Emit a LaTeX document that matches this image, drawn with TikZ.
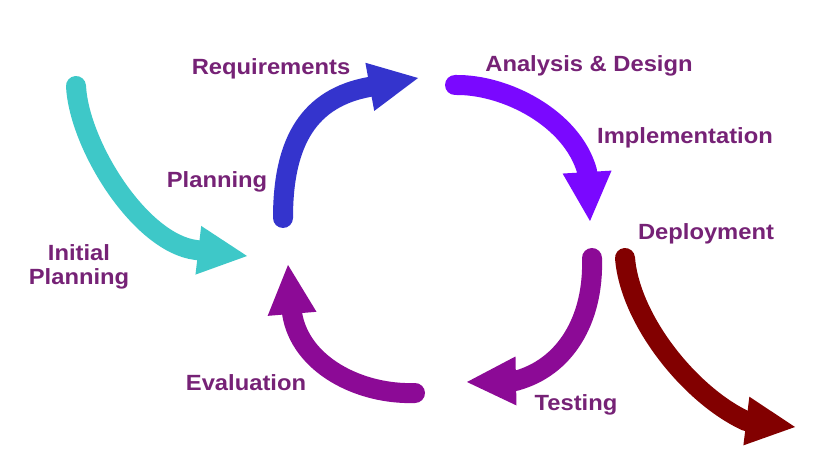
\documentclass[tikz,border=0pt]{standalone}
\usepackage{fontspec}
\setmainfont{Liberation Sans}[FakeStretch=1.08]
\usetikzlibrary{arrows.meta}
\definecolor{cCyan}{RGB}{62,200,200}
\definecolor{cBlue}{RGB}{52,52,205}
\definecolor{cViolet}{RGB}{122,8,255}
\definecolor{cPurple}{RGB}{140,10,150}
\definecolor{cDarkRed}{RGB}{130,0,0}
\definecolor{cText}{RGB}{118,34,118}
\begin{document}
\begin{tikzpicture}[x=1pt,y=-1pt,
  bigarrow/.style={line width=20pt, line cap=round, line join=round,
    -{Triangle[width=49pt,length=49pt,line width=0pt]}},
  lbl/.style={font=\fontsize{22}{24}\selectfont\bfseries, text=cText,
    inner sep=0pt, anchor=base}]
\useasboundingbox (0,0) rectangle (830,470);
\fill[white] (0,0) rectangle (830,470);

% arrow start, head base and tip points
\coordinate (initS) at (76,86);   \coordinate (initB) at (196,250); \coordinate (initE) at (247,256);
\coordinate (planS) at (283,218); \coordinate (planB) at (369,87);  \coordinate (planE) at (418,78);
\coordinate (anaS)  at (455,85);  \coordinate (anaB)  at (587,171); \coordinate (anaE)  at (590,221);
\coordinate (testS) at (592,258); \coordinate (testB) at (515,381); \coordinate (testE) at (467,382);
\coordinate (evalS) at (415,393); \coordinate (evalB) at (292,313); \coordinate (evalE) at (288,265);
\coordinate (depS)  at (625,258); \coordinate (depB)  at (746,421); \coordinate (depE)  at (795,427);

% arrows
\draw[bigarrow, cCyan]    (initS) .. controls (79,145) and (140,243) .. (initB) -- (initE);
\draw[bigarrow, cBlue]    (planS) .. controls (283,140) and (310,98) .. (planB) -- (planE);
\draw[bigarrow, cViolet]  (anaS)  .. controls (505,84) and (572,118) .. (anaB) -- (anaE);
\draw[bigarrow, cPurple]  (testS) .. controls (594,320) and (565,368) .. (testB) -- (testE);
\draw[bigarrow, cPurple]  (evalS) .. controls (360,395) and (300,365) .. (evalB) -- (evalE);
\draw[bigarrow, cDarkRed] (depS)  .. controls (630,320) and (690,395) .. (depB) -- (depE);

% labels
\node[lbl] (req)  at (271,75)    {Requirements};
\node[lbl] (ana)  at (589,71.7)  {Analysis \& Design};
\node[lbl] (impl) at (685,143.3) {Implementation};
\node[lbl] (dep)  at (706,239.3) {Deployment};
\node[lbl] (plan) at (217,188)   {Planning};
\node[lbl, align=center, anchor=center] (init) at (79,267) {Initial\\Planning};
\node[lbl] (eval) at (246,390.7) {Evaluation};
\node[lbl] (test) at (576,410)   {Testing};
\end{tikzpicture}
\end{document}
